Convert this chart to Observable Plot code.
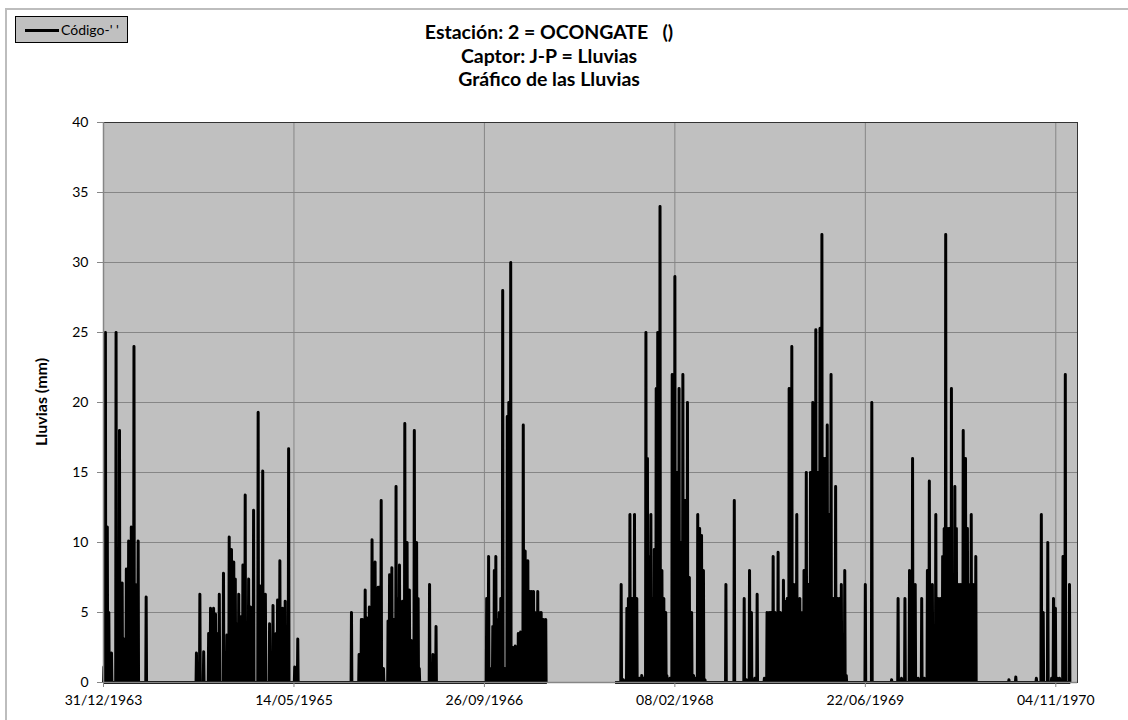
<!DOCTYPE html>
<html><head><meta charset="utf-8">
<script src="https://cdn.jsdelivr.net/npm/d3@7"></script>
<script src="https://cdn.jsdelivr.net/npm/@observablehq/plot@0.6"></script>
<style>
body{margin:0;background:#fff;overflow:hidden}
#wrap{position:relative;width:1128px;height:720px;overflow:hidden;font-family:Lato,"Open Sans",sans-serif;color:#000}
#frame{position:absolute;left:5px;top:8px;width:1300px;height:900px;border:2px solid #bdbdbd}
#chart{position:absolute;left:0;top:0}
#title{position:absolute;left:299px;width:500px;top:20px;text-align:center;font-weight:bold;font-size:19.5px;line-height:23.5px}
#legend{position:absolute;left:15px;top:16px;width:111px;height:25px;border:1px solid #000;background:#c0c0c0;font-size:14px;line-height:25px;white-space:nowrap}
#legend span.l{display:inline-block;width:34px;height:3px;background:#000;vertical-align:middle;margin:0 2px 0 9px;position:relative;top:-1px}
#ylab{position:absolute;left:40px;top:402px;transform:translate(-50%,-50%) rotate(-90deg);font-weight:bold;font-size:16px;white-space:nowrap}
</style></head>
<body>
<div id="wrap">
  <div id="frame"></div>
  <div id="chart"></div>
  <div id="legend"><span class="l"></span><span id="legtext"></span></div>
  <div id="title"></div>
  <div id="ylab"></div>
</div>
<script>
// ---- Data ----
const titleLines = ["Estación: 2 = OCONGATE   ()", "Captor: J-P = Lluvias", "Gráfico de las Lluvias"];
const yLabel = "Lluvias (mm)";
const legendLabel = "Código-' '";
const xTickLabels = ["31/12/1963", "14/05/1965", "26/09/1966", "08/02/1968", "22/06/1969", "04/11/1970"];
const xDomainEnd = "31/12/1970";
const yTicks = [0, 5, 10, 15, 20, 25, 30, 35, 40];

// record periods (day number counted from 31/12/1963)
const periodStart = [0, 1343];
const periodEnd = [1164, 2538];

// rainy days (day number from 31/12/1963) and daily rainfall (mm); other days in a period are 0
const rainDay = [
  1, 5, 10, 14, 21, 33, 42, 49, 54, 60, 66, 73, 80, 84, 91, 112,
  244, 253, 263, 276, 281, 289, 294, 298, 304, 315, 324, 330, 336, 342, 346, 351, 355, 361, 366, 372,
  381, 386, 394, 406, 412, 418, 425, 436, 445, 453, 457, 463, 470, 477, 486, 502, 510,
  651, 671, 677, 680, 687, 692, 698, 705, 709, 713, 721, 724, 729, 735, 747, 751, 757, 763, 768,
  773, 777, 782, 785, 791, 797, 803, 808, 816, 822, 826, 829, 856, 865, 873,
  1006, 1011, 1018, 1022, 1026, 1030, 1034, 1039, 1043, 1048, 1054, 1060, 1064, 1069, 1075, 1081,
  1086, 1089, 1095, 1102, 1107, 1114, 1120, 1124, 1129, 1133, 1140, 1144, 1149, 1155, 1161,
  1359, 1365, 1374, 1378, 1382, 1388, 1394, 1400, 1407, 1413, 1418, 1424, 1428, 1433, 1437, 1442,
  1446, 1451, 1455, 1461, 1466, 1471, 1476, 1479, 1487, 1493, 1500, 1505, 1511, 1516, 1521, 1527,
  1533, 1538, 1544, 1549, 1555, 1560, 1565, 1570, 1575, 1579, 1634, 1656,
  1682, 1688, 1696, 1701, 1710, 1716, 1735, 1742, 1748, 1752, 1758, 1763, 1771, 1777, 1785, 1789,
  1795, 1800, 1807, 1812, 1816, 1820, 1824, 1828, 1831, 1835, 1839, 1845, 1850, 1856, 1862, 1870, 1875,
  1881, 1886, 1891, 1895, 1900, 1905, 1910, 1916, 1922, 1927, 1932, 1937, 1946, 1950, 2000, 2017,
  2069, 2086, 2095, 2104, 2116, 2124, 2131, 2139, 2148, 2155, 2163, 2168, 2176, 2185, 2191, 2197,
  2203, 2207, 2211, 2217, 2221, 2226, 2235, 2239, 2246, 2251, 2257, 2263, 2268, 2274, 2278, 2283, 2286, 2290,
  2377, 2395, 2449, 2462, 2467, 2479, 2489, 2494, 2499, 2504, 2510, 2519, 2525, 2536
];
const rainMm = [
  1.1, 25, 11.1, 5, 2.1, 25, 18, 7.1, 3.1, 8.1, 10.1, 11.1, 24, 7, 10.1, 6.1,
  2.1, 6.3, 2.2, 3.5, 5.3, 5.3, 4.9, 3.5, 6.3, 7.8, 3.4, 10.4, 9.5, 8.6, 7.4, 4.2, 6.3, 4.7, 8.4, 13.4,
  7.4, 5.4, 12.3, 19.3, 6.9, 15.1, 6.3, 4.2, 5.5, 3.5, 5.9, 8.7, 5.3, 5.8, 16.7, 1.1, 3.1,
  5, 2, 4.5, 4.5, 6.6, 4.6, 5.4, 10.2, 6, 8.6, 6.8, 6.8, 13, 1, 4.4, 7.7, 8.2, 4.5, 14,
  6, 8.4, 5.5, 5.8, 18.5, 10, 6.6, 3, 18, 10, 6, 1, 7, 2, 4,
  6, 9, 1, 4, 8, 9, 4.5, 5, 6, 28, 1, 19, 20, 30, 2.5, 2.6,
  2.2, 3.5, 3.6, 18.4, 9.4, 8.7, 6.5, 6.5, 6.5, 5, 6.5, 5, 5, 4.5, 4.5,
  7, 0.2, 5.3, 6, 12, 6, 12, 6, 0.3, 0.5, 0.3, 25, 16, 9, 12, 6,
  9.5, 21, 25, 34, 8, 6, 5, 0.5, 0.3, 22, 29, 15, 21, 10, 22, 13,
  20, 7.5, 5, 0.5, 0.3, 12, 11, 10.5, 8, 0.2, 7, 13,
  6, 0.2, 8, 5, 0.3, 6.3, 0.3, 5, 5, 5, 9, 5, 9.3, 5, 7.3, 5.8,
  6, 21, 24, 7, 7, 12, 5.2, 6, 5, 5, 8, 15, 7, 15, 20, 25.2, 15,
  25.3, 32, 16, 16, 18.4, 12, 22, 6, 14, 6, 6, 7, 8, 0.5, 7, 20,
  0.2, 6, 0.3, 6, 8, 16, 7, 0.3, 6, 0.3, 8, 14.4, 7, 12, 6, 6,
  9, 11, 32, 11, 11, 21, 14, 11, 7, 7, 18, 16, 11, 7, 12, 7, 7, 9,
  0.2, 0.4, 0.3, 12, 5, 10, 0.3, 6, 5.3, 0.3, 0.3, 9, 22, 7
];

// ---- Build daily table ----
const parse = d3.utcParse("%d/%m/%Y");
const t0 = parse(xTickLabels[0]);
const xTicks = xTickLabels.map(parse);
const rain = new Map(rainDay.map((d, i) => [d, rainMm[i]]));
const series = [];
periodStart.forEach((s, p) => {
  for (let d = s; d <= periodEnd[p]; d++) {
    series.push({period: p, date: d3.utcDay.offset(t0, d), mm: rain.has(d) ? rain.get(d) : 0});
  }
});

const chart = Plot.plot({
  width: 1128,
  height: 720,
  marginLeft: 103,
  marginRight: 51,
  marginTop: 122,
  marginBottom: 38,
  style: {fontFamily: "Lato, 'Open Sans', sans-serif", fontSize: "14px", color: "#000", background: "transparent", overflow: "visible"},
  x: {type: "utc", domain: [t0, parse(xDomainEnd)]},
  y: {domain: [0, 40]},
  marks: [
    Plot.frame({fill: "#C0C0C0"}),
    Plot.gridY(yTicks, {stroke: "#868686", strokeOpacity: 1, strokeWidth: 1}),
    Plot.gridX(xTicks, {stroke: "#868686", strokeOpacity: 1, strokeWidth: 1}),
    Plot.line(series, {x: "date", y: "mm", z: "period", stroke: "#000", strokeWidth: 3, strokeLinejoin: "round", strokeLinecap: "butt"}),
    Plot.frame({stroke: "#333", strokeWidth: 1}),
    Plot.ruleX([t0], {stroke: "#868686", strokeWidth: 1.5}),
    Plot.ruleY([0], {stroke: "#868686", strokeWidth: 1.5}),
    Plot.axisY(yTicks, {tickSize: 6, tickPadding: 9, stroke: "#868686", label: null, fill: "#000"}),
    Plot.axisX(xTicks, {tickSize: 5, tickPadding: 8, stroke: "#868686", tickFormat: d3.utcFormat("%d/%m/%Y"), label: null, fill: "#000"})
  ]
});
document.getElementById("chart").appendChild(chart);
document.getElementById("title").innerHTML = titleLines.map(t => t.replace(/ {2,}/g, m => "&nbsp;".repeat(m.length - 1) + " ")).join("<br>");
document.getElementById("ylab").textContent = yLabel;
document.getElementById("legtext").textContent = legendLabel;
</script>
</body></html>
